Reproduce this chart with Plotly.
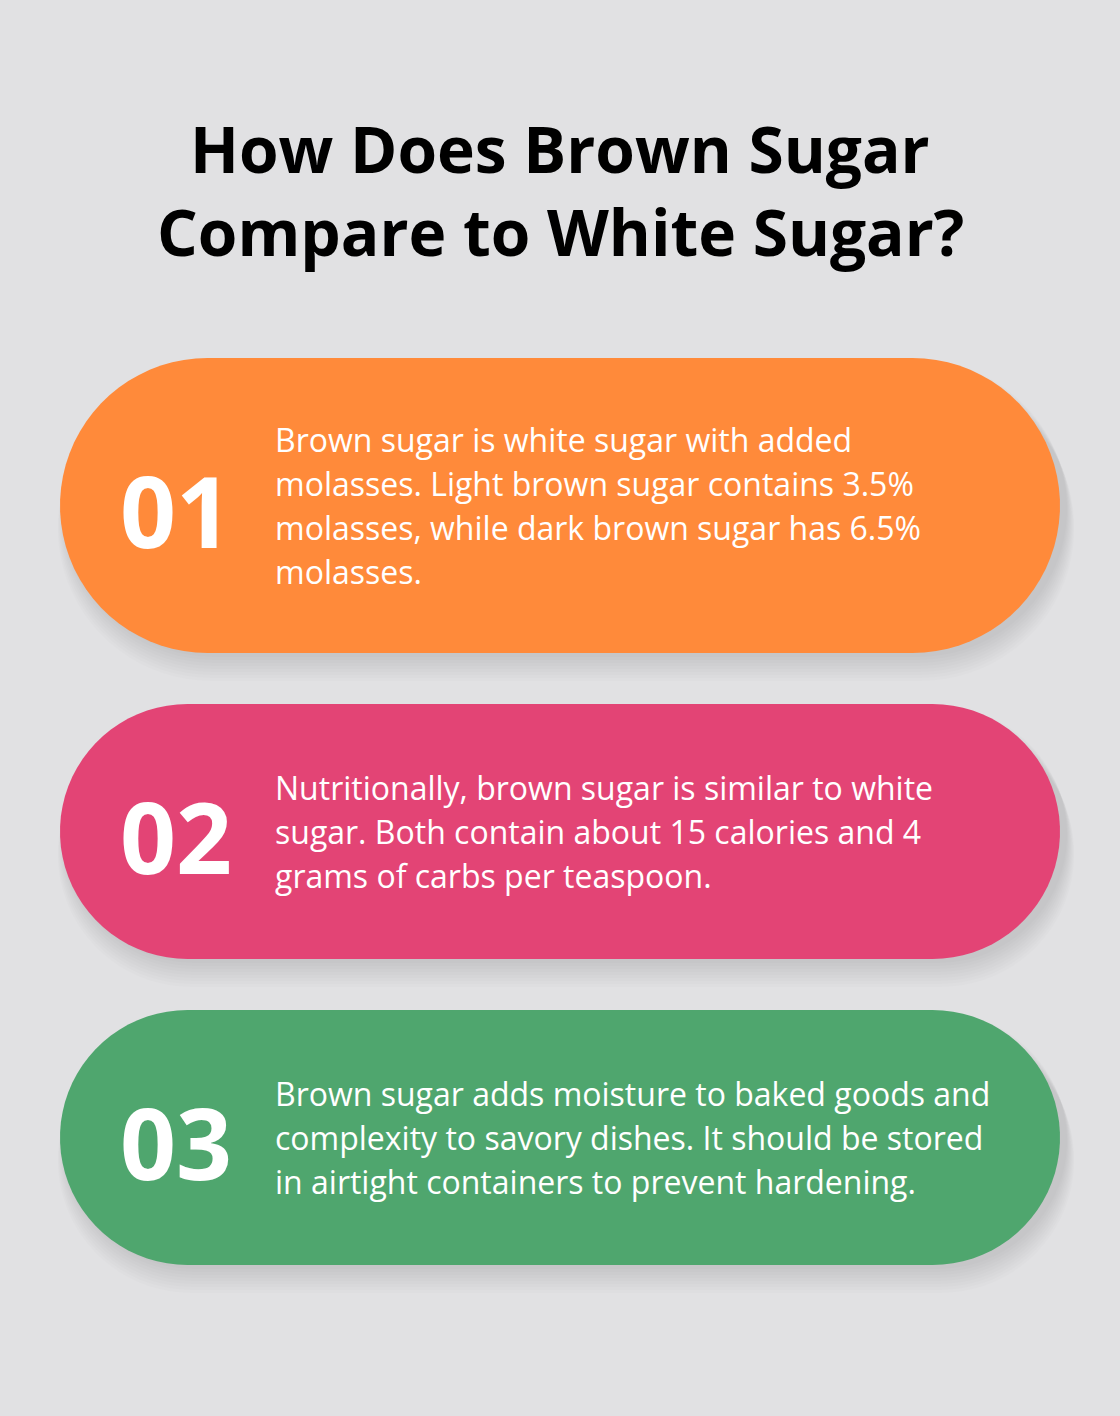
import numpy as np
import plotly.graph_objects as go

title_lines = ["How Does Brown Sugar", "Compare to White Sugar?"]
numbers = ["01", "02", "03"]
colors = ["#FF8A3A", "#E34475", "#4FA66E"]
texts = [
    ["Brown sugar is white sugar with added",
     "molasses. Light brown sugar contains 3.5%",
     "molasses, while dark brown sugar has 6.5%",
     "molasses."],
    ["Nutritionally, brown sugar is similar to white",
     "sugar. Both contain about 15 calories and 4",
     "grams of carbs per teaspoon."],
    ["Brown sugar adds moisture to baked goods and",
     "complexity to savory dishes. It should be stored",
     "in airtight containers to prevent hardening."],
]

W, H = 1120, 1416
pill_tops = [358, 704, 1010]
pill_bottoms = [653, 959, 1265]
x0, x1 = 60, 1060
line_gap = 44


def pill_path(left, right, top, bottom):
    r = (bottom - top) / 2
    cy = (top + bottom) / 2
    t1 = np.linspace(-np.pi / 2, np.pi / 2, 40)
    t2 = np.linspace(np.pi / 2, 3 * np.pi / 2, 40)
    pts = [(right - r + r * np.cos(t), cy + r * np.sin(t)) for t in t1]
    pts += [(left + r + r * np.cos(t), cy + r * np.sin(t)) for t in t2]
    return "M " + " L ".join(f"{px:.1f},{py:.1f}" for px, py in pts) + " Z"


fig = go.Figure()
shapes, annotations = [], []

for i, (top, bottom) in enumerate(zip(pill_tops, pill_bottoms)):
    # soft shadow: stacked faint pills, wider spread further down
    for k in range(4, 30, 3):
        shapes.append(dict(type="path",
                           path=pill_path(x0 - k * 0.3 + 6, x1 + k * 0.3 + 6, top + k * 0.6, bottom + k),
                           fillcolor="rgba(0,0,0,0.012)", line_width=0, layer="below"))
    shapes.append(dict(type="path", path=pill_path(x0, x1, top, bottom),
                       fillcolor=colors[i], line_width=0))
    cy = (top + bottom) / 2
    annotations.append(dict(x=118, y=cy + 4, text=f"<b>{numbers[i]}</b>", showarrow=False,
                            xanchor="left", yanchor="middle",
                            font=dict(family="Open Sans", size=98, color="white")))
    n = len(texts[i])
    start = cy - (n - 1) * line_gap / 2
    for j, line in enumerate(texts[i]):
        annotations.append(dict(x=273, y=start + j * line_gap, text=line, showarrow=False,
                                xanchor="left", yanchor="middle",
                                font=dict(family="Open Sans", size=32, color="white")))

for j, line in enumerate(title_lines):
    annotations.append(dict(x=W / 2, y=148 + j * 83, text=f"<b>{line}</b>", showarrow=False,
                            xanchor="center", yanchor="middle",
                            font=dict(family="Open Sans", size=64, color="black")))

fig.update_layout(
    width=W, height=H, margin=dict(l=0, r=0, t=0, b=0),
    paper_bgcolor="#E1E1E3", plot_bgcolor="#E1E1E3",
    xaxis=dict(range=[0, W], visible=False, fixedrange=True),
    yaxis=dict(range=[H, 0], visible=False, fixedrange=True),
    shapes=shapes, annotations=annotations, showlegend=False,
)
fig.write_html("out.html", post_script="document.body.style.margin='0';",
               config={"displayModeBar": False})
